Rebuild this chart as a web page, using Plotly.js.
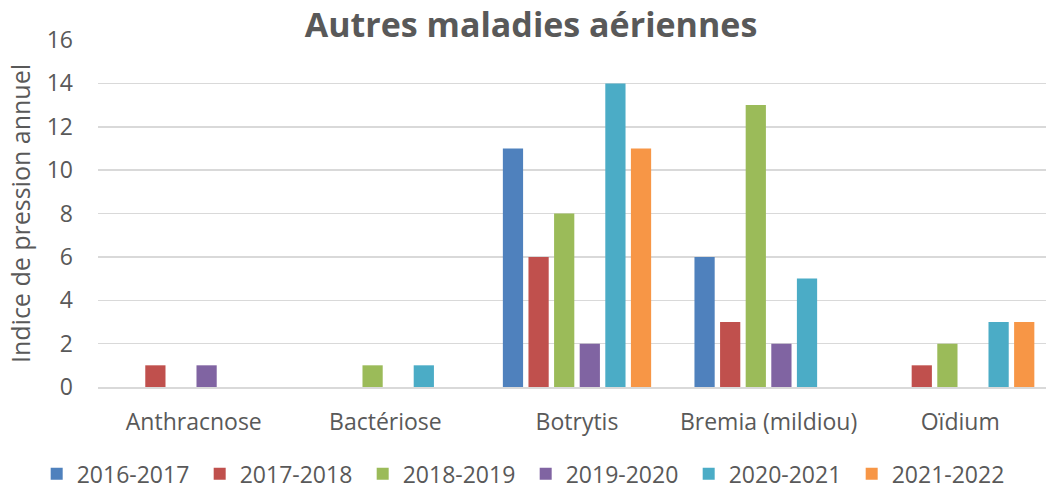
<!DOCTYPE html>
<html><head><meta charset="utf-8">
<script src="https://cdn.plot.ly/plotly-3.0.1.min.js"></script>
<style>html,body{margin:0;padding:0;background:#fff;overflow:hidden;width:1046px;height:497px}#chart{width:1058px;height:497px}</style>
</head><body><div id="chart"></div>
<script>
const categories = ["Anthracnose","Bactériose","Botrytis","Bremia (mildiou)","Oïdium"];
const seriesNames = ["2016-2017","2017-2018","2018-2019","2019-2020","2020-2021","2021-2022"];
const s2016 = [0,0,11,6,0];
const s2017 = [1,0,6,3,1];
const s2018 = [0,1,8,13,2];
const s2019 = [1,0,2,2,0];
const s2020 = [0,1,14,5,3];
const s2021 = [0,0,11,0,3];
const seriesValues = [s2016,s2017,s2018,s2019,s2020,s2021];
const colors = ["#4F81BD","#C0504D","#9BBB59","#8064A2","#4BACC6","#F79646"];
const yTicks = [0,2,4,6,8,10,12,14,16];

const font = "'Open Sans', sans-serif";
const traces = seriesNames.map((n,i)=>({
  type:"bar", name:n, x:categories, y:seriesValues[i],
  marker:{color:colors[i]}, hoverinfo:"none"
}));
Plotly.newPlot("chart", traces, {
  width:1058, height:497,
  margin:{l:98,r:2,t:40,b:107},
  paper_bgcolor:"#fff", plot_bgcolor:"#fff",
  font:{family:font, color:"#595959", size:23},
  title:{text:"<b>Autres maladies aériennes</b>", font:{size:34,color:"#595959",family:font}, x:531/1058, xanchor:"center", xref:"container", y:1-25/497, yanchor:"middle"},
  barmode:"group", bargap:0.198, bargroupgap:0.21,
  xaxis:{showgrid:false, showline:true, linecolor:"#d9d9d9", linewidth:1.5, tickfont:{size:23,color:"#595959"}, ticks:"", ticklabelstandoff:14, fixedrange:true, automargin:false},
  yaxis:{range:[0,16], tickvals:yTicks, ticktext:yTicks.map(String), showgrid:true, gridcolor:"#d9d9d9", gridwidth:1.5, zeroline:false, showline:false, tickfont:{size:23,color:"#595959"}, ticks:"", ticklabelstandoff:24, automargin:false,
    title:{text:"Indice de pression annuel", font:{size:25,color:"#595959"}, standoff:8}},
  legend:{orientation:"h", x:-0.064, xanchor:"left", y:-0.25, yanchor:"middle", font:{size:23,color:"#595959"}, itemwidth:30, traceorder:"normal", entrywidth:118},
  showlegend:true
}, {displayModeBar:false, staticPlot:true});
</script></body></html>
